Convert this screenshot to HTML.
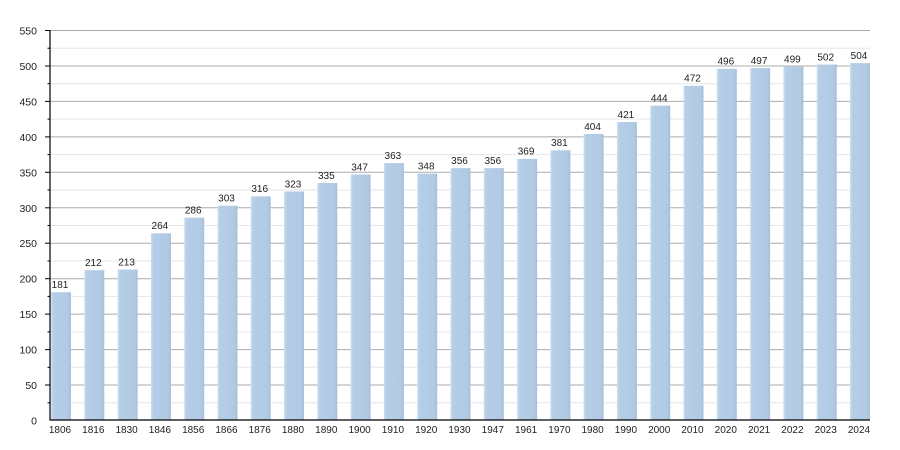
<!DOCTYPE html>
<html><head><meta charset="utf-8"><style>
html,body{margin:0;padding:0;background:#fff;}
svg{display:block;font-family:"Liberation Sans",Arial,sans-serif;}
</style></head><body>
<svg width="900" height="450" viewBox="0 0 900 450" xmlns="http://www.w3.org/2000/svg">
<defs>
<linearGradient id="g" x1="0" y1="0" x2="1" y2="0">
<stop offset="0" stop-color="#cfe0f0"/>
<stop offset="0.12" stop-color="#b5cee7"/>
<stop offset="0.85" stop-color="#b1cae4"/>
<stop offset="1" stop-color="#a6bed9"/>
</linearGradient>
</defs>
<rect width="900" height="450" fill="#fff"/>
<g stroke="#e6e6e6" stroke-width="1">
<line x1="50" x2="870" y1="402.8" y2="402.8"/>
<line x1="50" x2="870" y1="367.3" y2="367.3"/>
<line x1="50" x2="870" y1="331.9" y2="331.9"/>
<line x1="50" x2="870" y1="296.4" y2="296.4"/>
<line x1="50" x2="870" y1="261" y2="261"/>
<line x1="50" x2="870" y1="225.5" y2="225.5"/>
<line x1="50" x2="870" y1="190" y2="190"/>
<line x1="50" x2="870" y1="154.6" y2="154.6"/>
<line x1="50" x2="870" y1="119.1" y2="119.1"/>
<line x1="50" x2="870" y1="83.7" y2="83.7"/>
<line x1="50" x2="870" y1="48.2" y2="48.2"/>
</g>
<g stroke="#ababab" stroke-width="1">
<line x1="50" x2="870" y1="385" y2="385"/>
<line x1="50" x2="870" y1="349.6" y2="349.6"/>
<line x1="50" x2="870" y1="314.1" y2="314.1"/>
<line x1="50" x2="870" y1="278.7" y2="278.7"/>
<line x1="50" x2="870" y1="243.2" y2="243.2"/>
<line x1="50" x2="870" y1="207.8" y2="207.8"/>
<line x1="50" x2="870" y1="172.3" y2="172.3"/>
<line x1="50" x2="870" y1="136.9" y2="136.9"/>
<line x1="50" x2="870" y1="101.4" y2="101.4"/>
<line x1="50" x2="870" y1="66" y2="66"/>
<line x1="50" x2="870" y1="30.5" y2="30.5"/>
</g>
<g fill="url(#g)">
<rect x="51" y="292.2" width="20" height="127.8"/>
<rect x="84.3" y="270.2" width="20" height="149.8"/>
<rect x="117.6" y="269.5" width="20" height="150.5"/>
<rect x="150.9" y="233.3" width="20" height="186.7"/>
<rect x="184.2" y="217.7" width="20" height="202.3"/>
<rect x="217.5" y="205.7" width="20" height="214.3"/>
<rect x="250.7" y="196.4" width="20" height="223.6"/>
<rect x="284" y="191.5" width="20" height="228.5"/>
<rect x="317.3" y="183" width="20" height="237"/>
<rect x="350.6" y="174.5" width="20" height="245.5"/>
<rect x="383.9" y="163.1" width="20" height="256.9"/>
<rect x="417.2" y="173.7" width="20" height="246.3"/>
<rect x="450.5" y="168.1" width="20" height="251.9"/>
<rect x="483.8" y="168.1" width="20" height="251.9"/>
<rect x="517.1" y="158.9" width="20" height="261.1"/>
<rect x="550.4" y="150.3" width="20" height="269.7"/>
<rect x="583.6" y="134" width="20" height="286"/>
<rect x="616.9" y="122" width="20" height="298"/>
<rect x="650.2" y="105.7" width="20" height="314.3"/>
<rect x="683.5" y="85.8" width="20" height="334.2"/>
<rect x="716.8" y="68.8" width="20" height="351.2"/>
<rect x="750.1" y="68.1" width="20" height="351.9"/>
<rect x="783.4" y="66.7" width="20" height="353.3"/>
<rect x="816.7" y="64.5" width="20" height="355.5"/>
<rect x="850" y="63.1" width="20" height="356.9"/>
</g>
<g stroke="#000" stroke-width="1.2">
<line x1="50" y1="30" x2="50" y2="420.5"/>
<line x1="49.5" y1="420" x2="870" y2="420"/>
</g>
<g stroke="#000" stroke-width="1">
<line x1="45" x2="50" y1="385" y2="385"/>
<line x1="45" x2="50" y1="349.6" y2="349.6"/>
<line x1="45" x2="50" y1="314.1" y2="314.1"/>
<line x1="45" x2="50" y1="278.7" y2="278.7"/>
<line x1="45" x2="50" y1="243.2" y2="243.2"/>
<line x1="45" x2="50" y1="207.8" y2="207.8"/>
<line x1="45" x2="50" y1="172.3" y2="172.3"/>
<line x1="45" x2="50" y1="136.9" y2="136.9"/>
<line x1="45" x2="50" y1="101.4" y2="101.4"/>
<line x1="45" x2="50" y1="66" y2="66"/>
<line x1="45" x2="50" y1="30.5" y2="30.5"/>
<line x1="47.5" x2="50" y1="402.8" y2="402.8"/>
<line x1="47.5" x2="50" y1="367.3" y2="367.3"/>
<line x1="47.5" x2="50" y1="331.9" y2="331.9"/>
<line x1="47.5" x2="50" y1="296.4" y2="296.4"/>
<line x1="47.5" x2="50" y1="261" y2="261"/>
<line x1="47.5" x2="50" y1="225.5" y2="225.5"/>
<line x1="47.5" x2="50" y1="190" y2="190"/>
<line x1="47.5" x2="50" y1="154.6" y2="154.6"/>
<line x1="47.5" x2="50" y1="119.1" y2="119.1"/>
<line x1="47.5" x2="50" y1="83.7" y2="83.7"/>
<line x1="47.5" x2="50" y1="48.2" y2="48.2"/>
</g>
<g font-size="10.5" fill="#222" text-anchor="end">
<text x="37" y="424.5">0</text>
<text x="37" y="389">50</text>
<text x="37" y="353.6">100</text>
<text x="37" y="318.1">150</text>
<text x="37" y="282.7">200</text>
<text x="37" y="247.2">250</text>
<text x="37" y="211.8">300</text>
<text x="37" y="176.3">350</text>
<text x="37" y="140.9">400</text>
<text x="37" y="105.4">450</text>
<text x="37" y="70">500</text>
<text x="37" y="34.5">550</text>
</g>
<g font-size="10" fill="#222" text-anchor="middle">
<text x="60" y="433">1806</text>
<text x="93.3" y="433">1816</text>
<text x="126.6" y="433">1830</text>
<text x="159.9" y="433">1846</text>
<text x="193.2" y="433">1856</text>
<text x="226.5" y="433">1866</text>
<text x="259.7" y="433">1876</text>
<text x="293" y="433">1880</text>
<text x="326.3" y="433">1890</text>
<text x="359.6" y="433">1900</text>
<text x="392.9" y="433">1910</text>
<text x="426.2" y="433">1920</text>
<text x="459.5" y="433">1930</text>
<text x="492.8" y="433">1947</text>
<text x="526.1" y="433">1961</text>
<text x="559.4" y="433">1970</text>
<text x="592.6" y="433">1980</text>
<text x="625.9" y="433">1990</text>
<text x="659.2" y="433">2000</text>
<text x="692.5" y="433">2010</text>
<text x="725.8" y="433">2020</text>
<text x="759.1" y="433">2021</text>
<text x="792.4" y="433">2022</text>
<text x="825.7" y="433">2023</text>
<text x="859" y="433">2024</text>
</g>
<g font-size="10" fill="#222" text-anchor="middle">
<text x="60" y="288">181</text>
<text x="93.3" y="266">212</text>
<text x="126.6" y="265.3">213</text>
<text x="159.9" y="229.1">264</text>
<text x="193.2" y="213.5">286</text>
<text x="226.5" y="201.5">303</text>
<text x="259.7" y="192.2">316</text>
<text x="293" y="187.3">323</text>
<text x="326.3" y="178.8">335</text>
<text x="359.6" y="170.3">347</text>
<text x="392.9" y="158.9">363</text>
<text x="426.2" y="169.5">348</text>
<text x="459.5" y="163.9">356</text>
<text x="492.8" y="163.9">356</text>
<text x="526.1" y="154.7">369</text>
<text x="559.4" y="146.1">381</text>
<text x="592.6" y="129.8">404</text>
<text x="625.9" y="117.8">421</text>
<text x="659.2" y="101.5">444</text>
<text x="692.5" y="81.6">472</text>
<text x="725.8" y="64.6">496</text>
<text x="759.1" y="63.9">497</text>
<text x="792.4" y="62.5">499</text>
<text x="825.7" y="60.3">502</text>
<text x="859" y="58.9">504</text>
</g>
</svg>
</body></html>
